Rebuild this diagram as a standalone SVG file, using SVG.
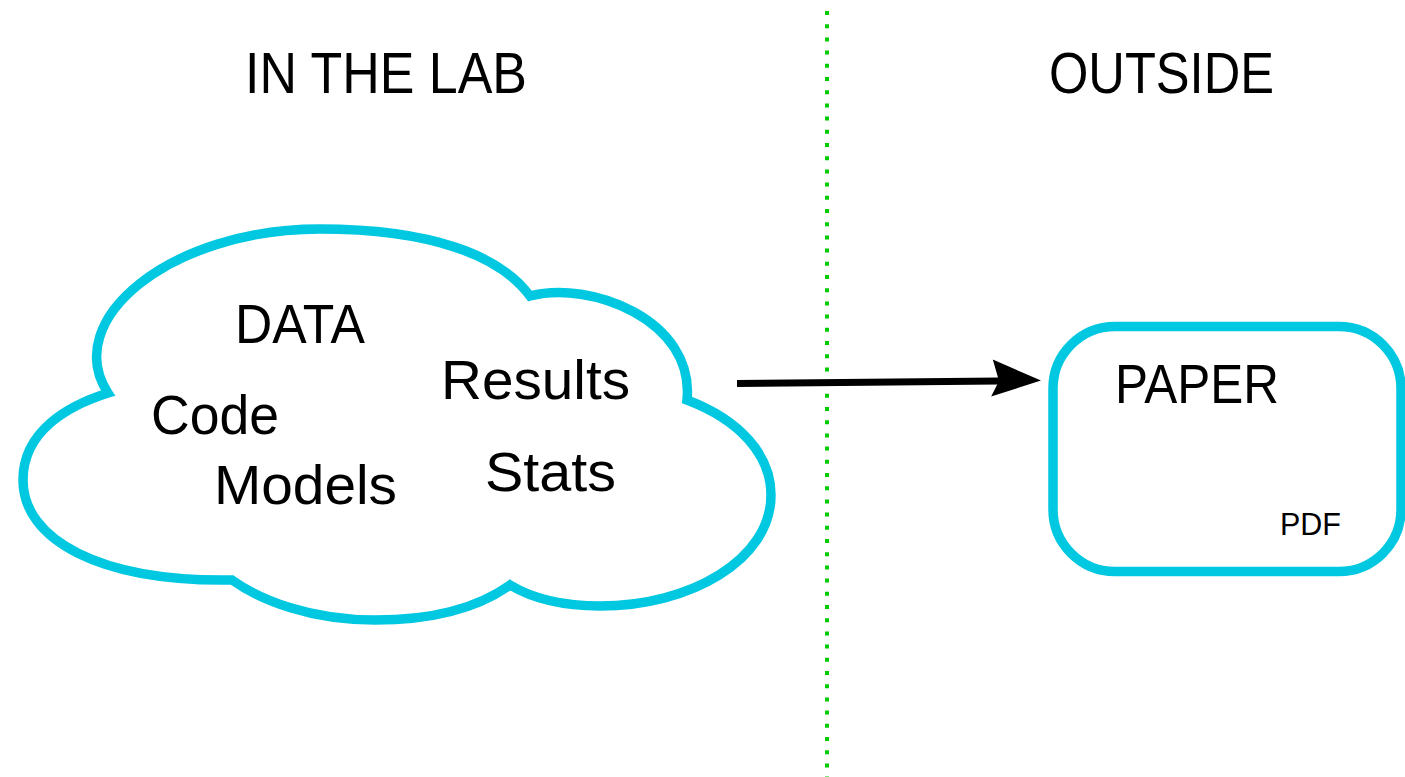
<svg xmlns="http://www.w3.org/2000/svg" width="1405" height="777" viewBox="0 0 1405 777">
<style>
.shape{fill:#ffffff;stroke:#00C8E1;stroke-width:9.5}
.t{font-family:"Liberation Sans",Arial,sans-serif;fill:#000000}
.lbl{font-size:55px}
.title{font-size:58px}
.small{font-size:32px}
.conn{stroke:#000000;stroke-width:7;fill:none}
.divider{stroke:#00CC00;stroke-width:4;stroke-dasharray:4 9.2;fill:none}
</style>
<defs>
<marker id="arrow" markerUnits="userSpaceOnUse" markerWidth="60" markerHeight="45" refX="8" refY="21.5" orient="auto" overflow="visible">
<path d="M 2 0 L 50 21.5 L 0 37 L 8 21.5 Z" fill="#000000"/>
</marker>
</defs>
<rect width="1405" height="777" fill="#ffffff"/>
<g id="divider">
<line class="divider" x1="827" y1="11" x2="827" y2="777"/>
</g>
<g id="title-lab">
<text class="t title" x="245" y="93" textLength="282" lengthAdjust="spacingAndGlyphs">IN THE LAB</text>
</g>
<g id="title-outside">
<text class="t title" x="1049" y="93" textLength="225" lengthAdjust="spacingAndGlyphs">OUTSIDE</text>
</g>
<g id="cloud">
<path class="shape" d="M 108 393 C 60 320 170 229 320 229 C 430 229 500 255 530 296 C 590 280 695 320 687 400 C 740 420 771 455 771 495 C 771 560 690 606 600 606 C 560 606 530 597 510 585 C 475 610 430 620 375 620 C 310 620 260 600 232 580 C 100 582 23 540 23 480 C 23 430 70 405 108 393 Z"/>
<text class="t lbl" x="235" y="343" textLength="130" lengthAdjust="spacingAndGlyphs">DATA</text>
<text class="t lbl" x="441" y="399" textLength="189" lengthAdjust="spacingAndGlyphs">Results</text>
<text class="t lbl" x="151" y="434" textLength="128" lengthAdjust="spacingAndGlyphs">Code</text>
<text class="t lbl" x="214" y="504" textLength="183" lengthAdjust="spacingAndGlyphs">Models</text>
<text class="t lbl" x="485" y="491" textLength="131" lengthAdjust="spacingAndGlyphs">Stats</text>
</g>
<g id="paper">
<rect class="shape" x="1053" y="326.5" width="348" height="245" rx="62" ry="62" stroke-width="10"/>
<text class="t lbl" x="1115" y="403" textLength="164" lengthAdjust="spacingAndGlyphs">PAPER</text>
<text class="t small" x="1280" y="535" textLength="61" lengthAdjust="spacingAndGlyphs">PDF</text>
</g>
<g id="connectors">
<line class="conn" x1="737" y1="383.5" x2="999" y2="381" marker-end="url(#arrow)"/>
</g>
</svg>
